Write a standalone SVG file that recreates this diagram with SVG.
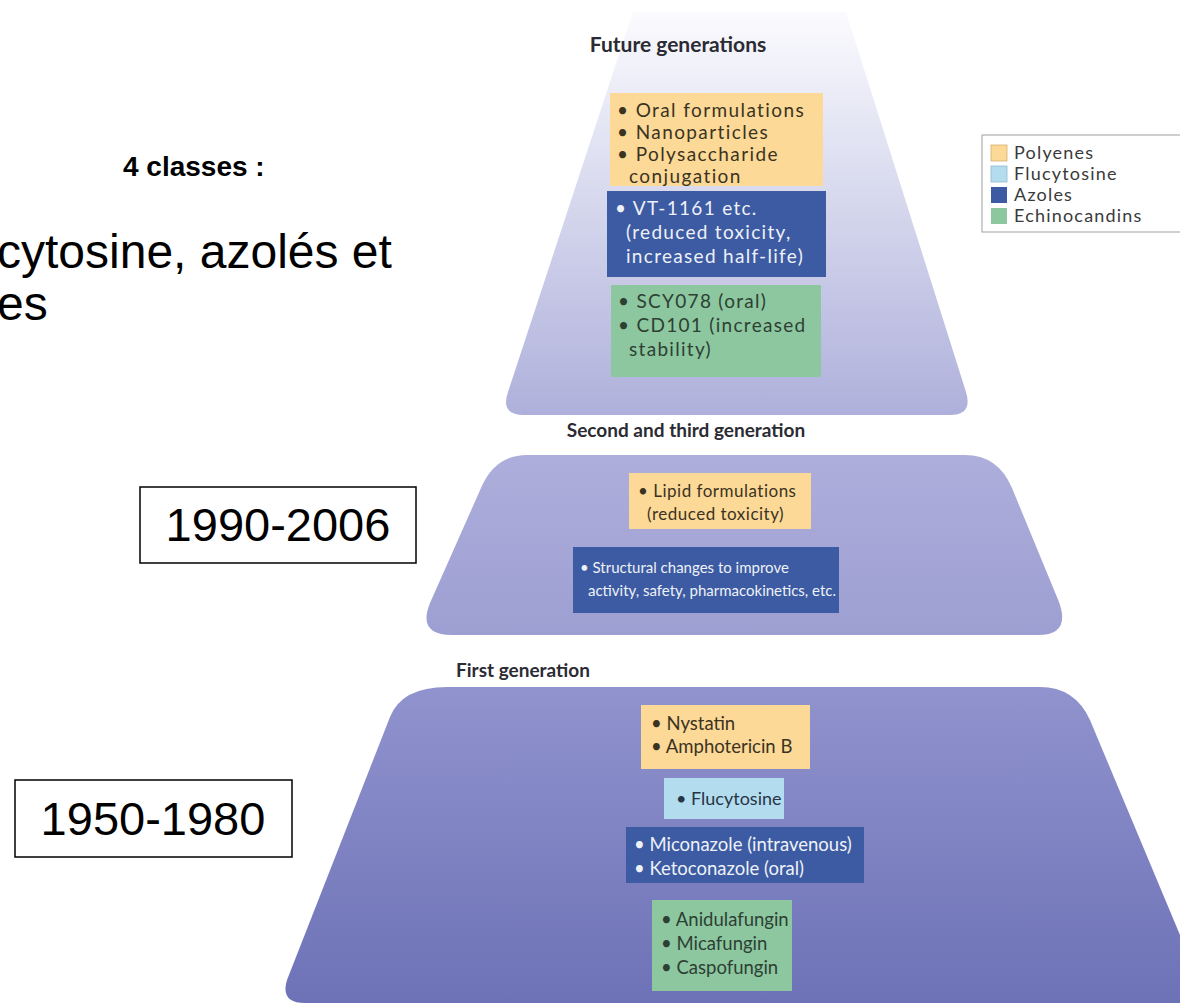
<svg xmlns="http://www.w3.org/2000/svg" width="1180" height="1007" viewBox="0 0 1180 1007">
<defs>
<linearGradient id="gTop" x1="0" y1="0" x2="0" y2="1">
<stop offset="0" stop-color="#fbfbfe"/>
<stop offset="0.25" stop-color="#e7e8f5"/>
<stop offset="1" stop-color="#aeb0db"/>
</linearGradient>
<linearGradient id="gMid" x1="0" y1="0" x2="0" y2="1">
<stop offset="0" stop-color="#adaedb"/>
<stop offset="1" stop-color="#9d9fd2"/>
</linearGradient>
<linearGradient id="gBot" x1="0" y1="0" x2="0" y2="1">
<stop offset="0" stop-color="#9093cd"/>
<stop offset="1" stop-color="#6d72b7"/>
</linearGradient>
<style>
.slide{font-family:"Liberation Sans",Arial,sans-serif;fill:#000}
.hd{font-family:Lato,"Open Sans",sans-serif;font-weight:bold;fill:#2b2b33}
.t{font-family:Lato,"Open Sans",sans-serif}
.poly{fill:#fcd997}
.fluc{fill:#b4dcef}
.azo{fill:#3c5ba2}
.echi{fill:#8cc7a0}
.dk{fill:#3b3322}
.wt{fill:#eef1f8}
.gr{fill:#2e3f33}
.bl{fill:#263646}
.yr{fill:#fff;stroke:#000;stroke-width:1.5}
</style>
</defs>
<rect width="1180" height="1007" fill="#fff"/>

<g id="slide-text">
<text class="slide" x="123" y="176" font-size="28" font-weight="bold">4 classes :</text>
<text class="slide" x="-3" y="268" font-size="48">cytosine, azolés et</text>
<text class="slide" x="-3" y="320" font-size="48">es</text>
</g>

<g id="tier-future">
<path d="M633,12 L846,12 L966,392 Q973,415 950,415 L524,415 Q500,415 508,392 Z" fill="url(#gTop)"/>
<text class="hd" x="678" y="52" font-size="21" text-anchor="middle">Future generations</text>
<rect class="poly" x="610" y="93" width="213" height="93"/>
<text class="t dk" font-size="19" letter-spacing="1.4"><tspan x="617" y="117">• Oral formulations</tspan><tspan x="617" y="139">• Nanoparticles</tspan><tspan x="617" y="161">• Polysaccharide</tspan><tspan x="629" y="183">conjugation</tspan></text>
<rect class="azo" x="607" y="191" width="219" height="86"/>
<text class="t wt" font-size="19" letter-spacing="1.3"><tspan x="615" y="215">• VT-1161 etc.</tspan><tspan x="626" y="239">(reduced toxicity,</tspan><tspan x="626" y="263">increased half-life)</tspan></text>
<rect class="echi" x="611" y="285" width="210" height="92"/>
<text class="t gr" font-size="19" letter-spacing="1.3"><tspan x="618" y="308">• SCY078 (oral)</tspan><tspan x="618" y="332">• CD101 (increased</tspan><tspan x="629" y="356">stability)</tspan></text>
</g>

<g id="tier-second">
<text class="hd" x="686" y="437" font-size="19" text-anchor="middle">Second and third generation</text>
<path d="M527,455 L965,455 Q998,455 1012,488 L1059,602 Q1071,635 1038,635 L452,635 Q417,635 430,603 L481,488 Q495,455 527,455 Z" fill="url(#gMid)"/>
<rect class="poly" x="629" y="473" width="182" height="56"/>
<text class="t dk" font-size="17" letter-spacing="0.5"><tspan x="638" y="497">• Lipid formulations</tspan><tspan x="647" y="520">(reduced toxicity)</tspan></text>
<rect class="azo" x="573" y="547" width="266" height="66"/>
<text class="t wt" font-size="15"><tspan x="580" y="573">• Structural changes to improve</tspan><tspan x="588" y="596">activity, safety, pharmacokinetics, etc.</tspan></text>
</g>

<g id="tier-first">
<text class="hd" x="523" y="677" font-size="19" text-anchor="middle">First generation</text>
<path d="M447,687 L1040,687 Q1075,687 1090,720 L1180,935 L1180,1003 L305,1003 Q280,1003 287,980 L390,717 Q402,687 447,687 Z" fill="url(#gBot)"/>
<rect class="poly" x="641" y="705" width="169" height="64"/>
<text class="t dk" font-size="18.5"><tspan x="651" y="730">• Nystatin</tspan><tspan x="651" y="753">• Amphotericin B</tspan></text>
<rect class="fluc" x="664" y="778" width="120" height="41"/>
<text class="t bl" font-size="18"><tspan x="676" y="805">• Flucytosine</tspan></text>
<rect class="azo" x="626" y="827" width="238" height="56"/>
<text class="t wt" font-size="18.5"><tspan x="634" y="851">• Miconazole (intravenous)</tspan><tspan x="634" y="875">• Ketoconazole (oral)</tspan></text>
<rect class="echi" x="652" y="900" width="140" height="91"/>
<text class="t gr" font-size="18.5"><tspan x="661" y="926">• Anidulafungin</tspan><tspan x="661" y="950">• Micafungin</tspan><tspan x="661" y="974">• Caspofungin</tspan></text>
</g>

<g id="legend">
<rect x="982" y="135" width="206" height="97" fill="#fff" stroke="#a0a0a0" stroke-width="1"/>
<rect class="poly" x="991" y="145" width="16" height="16" stroke="#d4b070" stroke-width="0.8"/>
<rect class="fluc" x="991" y="166" width="16" height="16" stroke="#90b8cc" stroke-width="0.8"/>
<rect class="azo" x="991" y="187" width="16" height="16"/>
<rect class="echi" x="991" y="208" width="16" height="16"/>
<text class="t" font-size="18" letter-spacing="1.2" fill="#3a3a3a"><tspan x="1014" y="159">Polyenes</tspan><tspan x="1014" y="180">Flucytosine</tspan><tspan x="1014" y="201">Azoles</tspan><tspan x="1014" y="222">Echinocandins</tspan></text>
</g>

<g id="year-boxes">
<g id="y1990">
<rect class="yr" x="140" y="487" width="276" height="76"/>
<text class="slide" x="278" y="541" font-size="47" text-anchor="middle">1990-2006</text>
</g>
<g id="y1950">
<rect class="yr" x="15" y="780" width="277" height="77"/>
<text class="slide" x="153" y="835" font-size="47" text-anchor="middle">1950-1980</text>
</g>
</g>
<g id="connectors"/>
</svg>
